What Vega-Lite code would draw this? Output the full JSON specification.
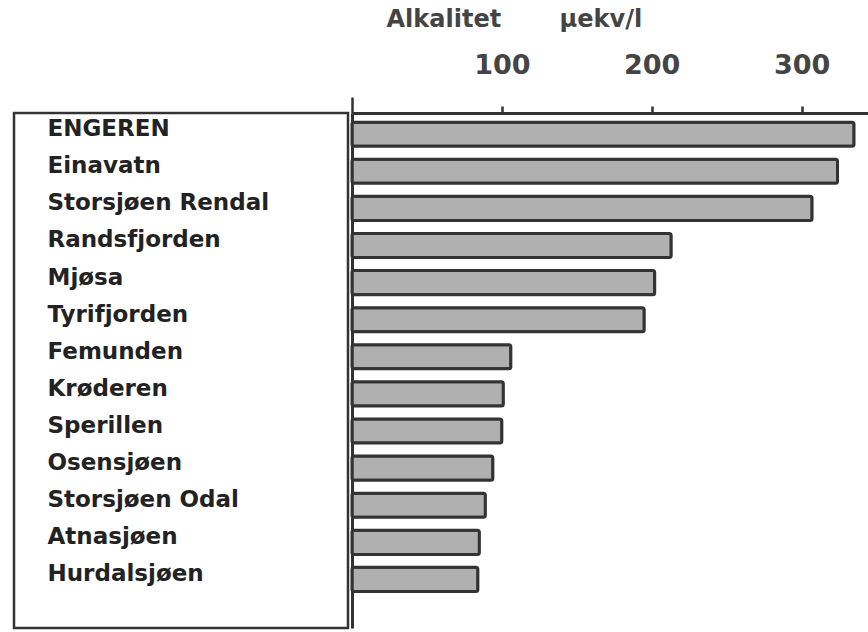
{
  "$schema": "https://vega.github.io/schema/vega-lite/v6.json",
  "padding": {"left": 12, "top": 7, "right": 0, "bottom": 0},
  "background": "white",
  "config": {"view": {"stroke": null}, "font": "DejaVu Sans", "concat": {"spacing": 0}},
  "data": {"values": [
    {"lake": "ENGEREN", "value": 335},
    {"lake": "Einavatn", "value": 324},
    {"lake": "Storsjøen Rendal", "value": 307},
    {"lake": "Randsfjorden", "value": 213},
    {"lake": "Mjøsa", "value": 202},
    {"lake": "Tyrifjorden", "value": 195},
    {"lake": "Femunden", "value": 106},
    {"lake": "Krøderen", "value": 101},
    {"lake": "Sperillen", "value": 100},
    {"lake": "Osensjøen", "value": 94},
    {"lake": "Storsjøen Odal", "value": 89},
    {"lake": "Atnasjøen", "value": 85},
    {"lake": "Hurdalsjøen", "value": 84}
  ]},
  "spacing": 0,
  "resolve": {"scale": {"y": "independent"}, "axis": {"y": "independent"}},
  "hconcat": [
    {
      "width": 334,
      "height": 515,
      "view": {"stroke": "#333", "strokeWidth": 2.5},
      "mark": {"type": "text", "text": ""},
      "encoding": {
        "y": {
          "field": "lake", "type": "nominal", "sort": null,
          "scale": {"type": "band", "paddingInner": 0.35, "paddingOuter": 0.615, "align": 0.2},
          "axis": {
            "orient": "left", "title": null, "ticks": false, "domain": false,
            "labelAlign": "left", "labelPadding": -33, "labelFont": "DejaVu Sans",
            "labelFontWeight": "bold", "labelFontSize": 23, "labelColor": "#222",
            "labelOffset": -5, "labelLimit": 400
          }
        }
      }
    },
    {
      "width": 517,
      "height": 515,
      "mark": {"type": "bar", "fill": "#b0b0b0", "stroke": "#333", "strokeWidth": 3, "cornerRadius": 2},
      "encoding": {
        "y": {
          "field": "lake", "type": "nominal", "sort": null,
          "scale": {"type": "band", "paddingInner": 0.35, "paddingOuter": 0.615, "align": 0.2},
          "axis": {"labels": false, "ticks": false, "title": null, "domainColor": "#333", "domainWidth": 3}
        },
        "x": {
          "field": "value", "type": "quantitative",
          "scale": {"domain": [0, 345], "nice": false},
          "axis": {
            "orient": "top", "values": [0, 100, 200, 300],
            "labelExpr": "datum.value === 0 ? '' : datum.label",
            "grid": false, "domainColor": "#333", "domainWidth": 3,
            "tickColor": "#333", "tickWidth": 2.5,
            "tickSize": {"condition": {"test": "datum.value === 0", "value": 16}, "value": 7},
            "labelFont": "DejaVu Sans", "labelFontWeight": "bold", "labelFontSize": 27,
            "labelColor": "#444", "labelPadding": 27,
            "title": "Alkalitet\u00a0\u00a0\u00a0\u00a0\u00a0\u00a0\u00a0µekv/l", "titleFont": "DejaVu Sans", "titleFontSize": 24,
            "titleFontWeight": "bold", "titleColor": "#444", "titleAnchor": "start",
            "titleAlign": "left", "titleX": 34, "titlePadding": 20
          }
        }
      }
    }
  ]
}
